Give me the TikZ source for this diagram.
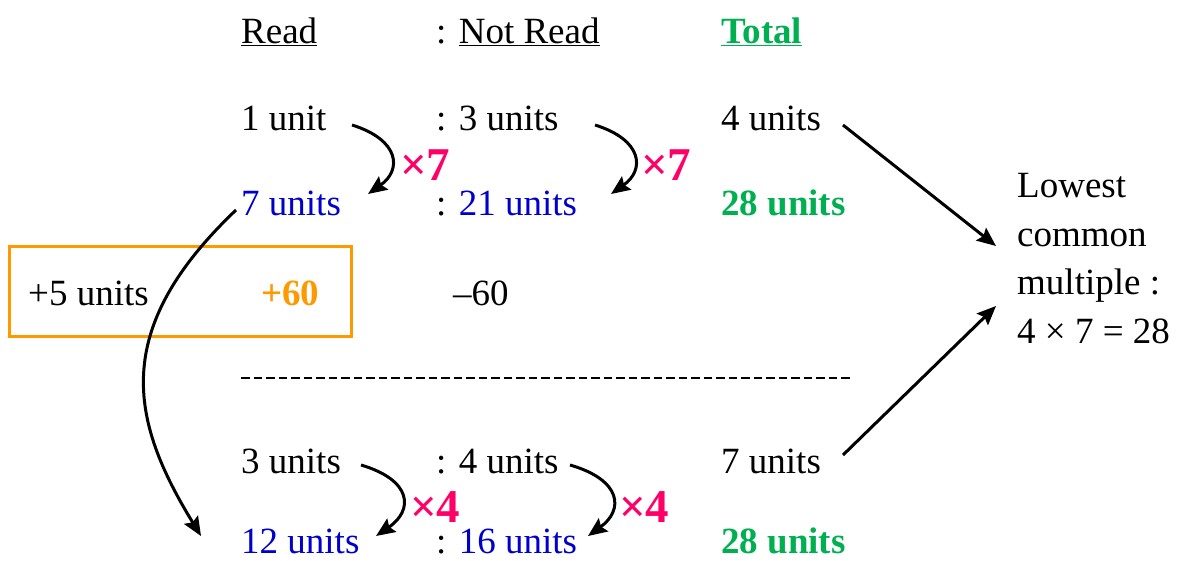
\documentclass[tikz,border=0pt]{standalone}
\usepackage{fontspec}
\setmainfont{Liberation Serif}
\usetikzlibrary{arrows.meta}
\definecolor{ublue}{HTML}{0000CC}
\definecolor{ugreen}{HTML}{00B050}
\definecolor{upink}{HTML}{FF0066}
\definecolor{uorange}{HTML}{FF9900}
\tikzset{
  txt/.style={inner sep=0pt, anchor=base west, font=\fontsize{37}{49}\selectfont},
  mult/.style={inner sep=0pt, anchor=base west, text=upink, font=\fontsize{47}{50}\selectfont\bfseries},
  arr/.style={line width=3pt, -{Stealth[length=19pt,width=16pt,inset=3pt]}},
}
\begin{document}
\begin{tikzpicture}[x=1pt,y=-1pt]
\useasboundingbox (0,0) rectangle (1178,560);
% headers
\node[txt] (hread) at (241,43) {\underline{Read}};
\node[txt] (hnot) at (436,43) {: \underline{Not Read}};
\node[txt, text=ugreen, font=\fontsize{37}{49}\selectfont\bfseries] (htot) at (721,43) {\underline{Total}};
% row 1
\node[txt] (r1a) at (241,130) {1 unit};
\node[txt] (r1b) at (436,130) {: 3 units};
\node[txt] (r1c) at (721,130) {4 units};
% row 2
\node[txt, text=ublue] (r2a) at (241,215) {7 units};
\node[txt] (r2b) at (436,215) {: \textcolor{ublue}{21 units}};
\node[txt, text=ugreen, font=\fontsize{37}{49}\selectfont\bfseries] (r2c) at (721,215) {28 units};
% row 3
\draw[uorange, line width=3pt] (9,246) rectangle (351,336);
\node[txt] (r3a) at (28,305) {+5 units};
\node[txt, text=uorange, font=\fontsize{37}{49}\selectfont\bfseries] (r3b) at (261,305) {+60};
\node[txt] (r3c) at (453,305) {–60};
% dashed line
\coordinate (dl) at (241,378);
\coordinate (dr) at (850,378);
\draw[line width=2.3pt, dash pattern=on 8.5pt off 4pt] (dl) -- (dr);
% row 4
\node[txt] (r4a) at (241,473) {3 units};
\node[txt] (r4b) at (436,473) {: 4 units};
\node[txt] (r4c) at (721,473) {7 units};
% row 5
\node[txt, text=ublue] (r5a) at (241,553) {12 units};
\node[txt] (r5b) at (436,553) {: \textcolor{ublue}{16 units}};
\node[txt, text=ugreen, font=\fontsize{37}{49}\selectfont\bfseries] (r5c) at (721,553) {28 units};
% LCM text
\node[txt] (l1) at (1017,197) {Lowest};
\node[txt] (l2) at (1017,246) {common};
\node[txt] (l3) at (1017,294) {multiple :};
\node[txt] (l4) at (1017,343) {4 × 7 = 28};
% multipliers
\node[mult] (m1) at (400,180) {×7};
\node[mult] (m2) at (641,180) {×7};
\node[mult] (m3) at (410,522) {×4};
\node[mult] (m4) at (619,522) {×4};
% arrow endpoints
\coordinate (a1s) at (352,125); \coordinate (a1e) at (368,194);
\coordinate (a2s) at (595,125); \coordinate (a2e) at (611,194);
\coordinate (a3s) at (361,465); \coordinate (a3e) at (376,536);
\coordinate (a4s) at (570,465); \coordinate (a4e) at (588,536);
\coordinate (bs) at (236,210); \coordinate (be) at (201,536);
\coordinate (t1s) at (843,125); \coordinate (t1e) at (996,246);
\coordinate (t2s) at (843,455); \coordinate (t2e) at (996,306);
\draw[arr] (a1s) .. controls (400,140) and (402,170) .. (a1e);
\draw[arr] (a2s) .. controls (643,140) and (645,170) .. (a2e);
\draw[arr] (a3s) .. controls (412,480) and (414,510) .. (a3e);
\draw[arr] (a4s) .. controls (622,480) and (624,510) .. (a4e);
\draw[arr] (bs) .. controls (110,330) and (130,420) .. (be);
\draw[arr] (t1s) -- (t1e);
\draw[arr] (t2s) -- (t2e);
\end{tikzpicture}
\end{document}
